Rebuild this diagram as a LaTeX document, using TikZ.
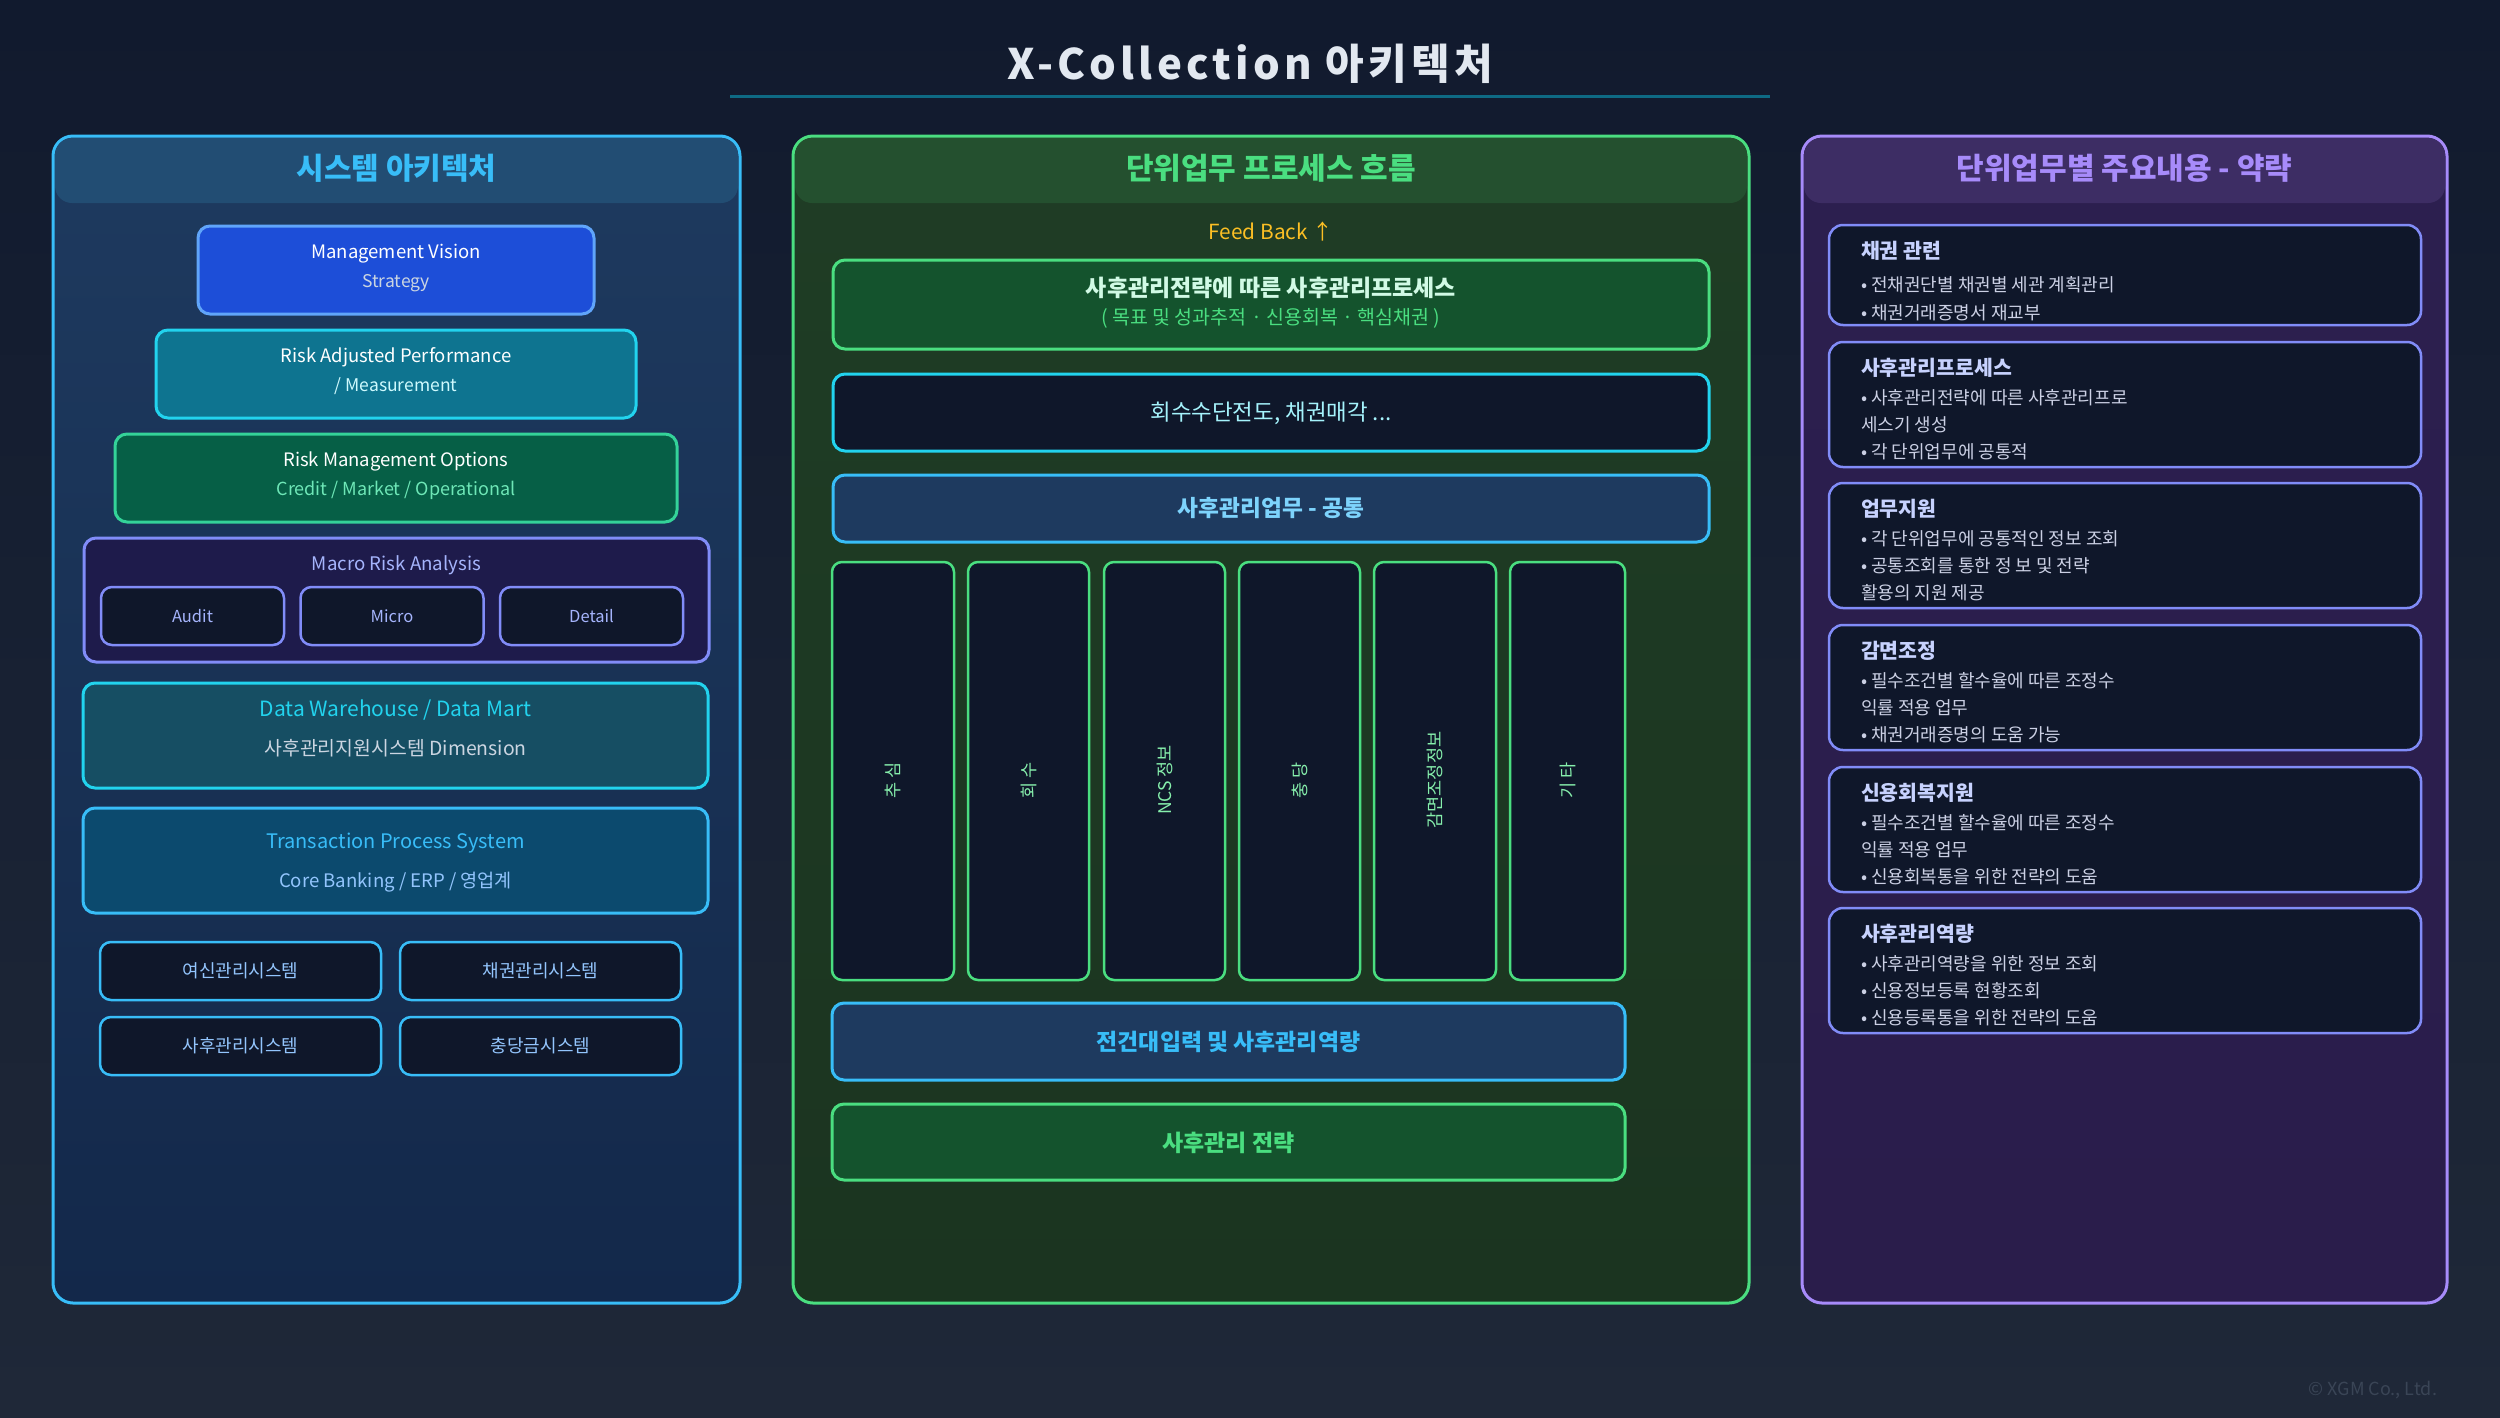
\documentclass[tikz,border=0pt]{standalone}
\usepackage{fontspec}
\setmainfont{Noto Sans CJK KR}
\newfontfamily\titlefont{Noto Sans CJK KR}[LetterSpace=10]
\newcommand{\fsz}[1]{\fontsize{#1}{#1}\selectfont}
\definecolor{bgtop}{HTML}{111A2E}
\definecolor{bgbot}{HTML}{1F2838}
\definecolor{titletxt}{HTML}{E2E8F0}
\definecolor{titleline}{HTML}{0E6A84}
\definecolor{lpborder}{HTML}{38BDF8}
\definecolor{lptop}{HTML}{1E3A5F}
\definecolor{lpbot}{HTML}{13284A}
\definecolor{lphdr}{HTML}{224D73}
\definecolor{mpborder}{HTML}{4ADE80}
\definecolor{mptop}{HTML}{1F3D25}
\definecolor{mpbot}{HTML}{1B3420}
\definecolor{mphdr}{HTML}{24502F}
\definecolor{rpborder}{HTML}{A78BFA}
\definecolor{rptop}{HTML}{2C1F4F}
\definecolor{rpbot}{HTML}{2A1D4B}
\definecolor{rphdr}{HTML}{3D2D64}
\definecolor{darkfill}{HTML}{0F172A}
\definecolor{mvfill}{HTML}{1D4ED8}
\definecolor{mvborder}{HTML}{60A5FA}
\definecolor{rapfill}{HTML}{0E7490}
\definecolor{cyanb}{HTML}{22D3EE}
\definecolor{rmofill}{HTML}{065F46}
\definecolor{rmoborder}{HTML}{34D399}
\definecolor{macrofill}{HTML}{1E1B4B}
\definecolor{indigob}{HTML}{818CF8}
\definecolor{indigot}{HTML}{A5B4FC}
\definecolor{dwfill}{HTML}{164E63}
\definecolor{tpsfill}{HTML}{0C4A6E}
\definecolor{lightblue}{HTML}{93C5FD}
\definecolor{subgray}{HTML}{CBD5E1}
\definecolor{greentxt}{HTML}{6EE7B7}
\definecolor{lightcyan}{HTML}{CFFAFE}
\definecolor{gfill}{HTML}{14532D}
\definecolor{gtitle}{HTML}{D1FAE5}
\definecolor{lgreen}{HTML}{86EFAC}
\definecolor{cyantxt}{HTML}{A5F3FC}
\definecolor{bluefill}{HTML}{1E3A5F}
\definecolor{skytxt}{HTML}{7DD3FC}
\definecolor{amber}{HTML}{FBBF24}
\definecolor{cardtitle}{HTML}{C7D2FE}
\definecolor{cardtext}{HTML}{CBD0E4}
\definecolor{copyc}{HTML}{3A4556}
\tikzset{
  every node/.style={inner sep=0pt, outer sep=0pt},
  panelbox/.style={draw, line width=3pt, rounded corners=20pt},
  hdrband/.style={rounded corners=17pt, minimum height=65pt},
  blk/.style={draw, line width=3pt, rounded corners=12pt},
  thinblk/.style={draw, line width=2.5pt, rounded corners=11pt},
  colbox/.style={draw=mpborder, fill=darkfill, line width=2.5pt, rounded corners=10pt, minimum height=418pt},
  card/.style={draw=indigob, fill=darkfill, line width=2.5pt, rounded corners=14pt, minimum width=592pt},
  hdrtxt/.style={font=\bfseries\fsz{30}},
  cardhead/.style={anchor=west, text=cardtitle, font=\bfseries\fsz{20.5}},
  cardline/.style={anchor=west, text=cardtext, font=\fsz{18}},
  coltxt/.style={rotate=90, text=lgreen, font=\fsz{17.5}}
}
\begin{document}
\begin{tikzpicture}[x=1pt,y=-1pt]
\useasboundingbox (0,0) rectangle (2500,1417);
\shade[top color=bgtop, bottom color=bgbot] (0,0) rectangle (2500,1417);

% title
\node[text=titletxt, font=\titlefont\bfseries\fsz{42}] (title) at (1250,64) {X-Collection 아키텍처};
\coordinate (tl1) at (730,96);
\coordinate (tl2) at (1770,96);
\draw[titleline, line width=3pt] (tl1) -- (tl2);

% ===== left panel =====
\node[panelbox, draw=lpborder, top color=lptop, bottom color=lpbot, minimum width=687pt, minimum height=1167pt] (lp) at (396.5,719.5) {};
\node[hdrband, fill=lphdr, minimum width=683pt] (lph) at (396.5,170.5) {};
\node[hdrtxt, text=lpborder] (lpt) at (396.5,168) {시스템 아키텍처};

\node[blk, draw=mvborder, fill=mvfill, minimum width=396pt, minimum height=88pt] (mv) at (396,270) {};
\node[text=white, font=\fsz{18.5}] (mv1) at (396,254) {Management Vision};
\node[text=subgray, font=\fsz{17.5}] (mv2) at (396,283) {Strategy};

\node[blk, draw=cyanb, fill=rapfill, minimum width=480pt, minimum height=88pt] (rap) at (396,374) {};
\node[text=white, font=\fsz{18.5}] (rap1) at (396,357) {Risk Adjusted Performance};
\node[text=lightcyan, font=\fsz{17.5}] (rap2) at (396,386) {/ Measurement};

\node[blk, draw=rmoborder, fill=rmofill, minimum width=562pt, minimum height=88pt] (rmo) at (396,478) {};
\node[text=white, font=\fsz{18.5}] (rmo1) at (396,461) {Risk Management Options};
\node[text=greentxt, font=\fsz{18}] (rmo2) at (396,490) {Credit / Market / Operational};

\node[blk, draw=indigob, fill=macrofill, minimum width=625pt, minimum height=124pt] (macro) at (396.5,600) {};
\node[text=indigot, font=\fsz{18.7}] (macrot) at (396.5,565) {Macro Risk Analysis};
\node[thinblk, draw=indigob, fill=darkfill, minimum width=183pt, minimum height=58pt] (audit) at (192.5,616) {};
\node[thinblk, draw=indigob, fill=darkfill, minimum width=183pt, minimum height=58pt] (micro) at (392,616) {};
\node[thinblk, draw=indigob, fill=darkfill, minimum width=183pt, minimum height=58pt] (detail) at (591.5,616) {};
\node[text=indigot, font=\fsz{16.5}] at (audit) {Audit};
\node[text=indigot, font=\fsz{16.5}] at (micro) {Micro};
\node[text=indigot, font=\fsz{16.5}] at (detail) {Detail};

\node[blk, draw=cyanb, fill=dwfill, minimum width=625pt, minimum height=105pt] (dw) at (395.5,735.5) {};
\node[text=cyanb, font=\fsz{21}] (dw1) at (395.5,710) {Data Warehouse / Data Mart};
\node[text=subgray, font=\fsz{19.4}] (dw2) at (395.5,748) {사후관리지원시스템 Dimension};

\node[blk, draw=lpborder, fill=tpsfill, minimum width=625pt, minimum height=105pt] (tps) at (395.5,860.5) {};
\node[text=lpborder, font=\fsz{20}] (tps1) at (395.5,843) {Transaction Process System};
\node[text=lightblue, font=\fsz{18.6}] (tps2) at (395.5,882) {Core Banking / ERP / 영업계};

\node[thinblk, draw=lpborder, fill=darkfill, minimum width=281pt, minimum height=58pt] (s1) at (240.5,971) {};
\node[thinblk, draw=lpborder, fill=darkfill, minimum width=281pt, minimum height=58pt] (s2) at (540.5,971) {};
\node[thinblk, draw=lpborder, fill=darkfill, minimum width=281pt, minimum height=58pt] (s3) at (240.5,1046) {};
\node[thinblk, draw=lpborder, fill=darkfill, minimum width=281pt, minimum height=58pt] (s4) at (540.5,1046) {};
\node[text=lightblue, font=\fsz{18}] at (s1) {여신관리시스템};
\node[text=lightblue, font=\fsz{18}] at (s2) {채권관리시스템};
\node[text=lightblue, font=\fsz{18}] at (s3) {사후관리시스템};
\node[text=lightblue, font=\fsz{18}] at (s4) {충당금시스템};

% ===== middle panel =====
\node[panelbox, draw=mpborder, top color=mptop, bottom color=mpbot, minimum width=956pt, minimum height=1167pt] (mp) at (1271,719.5) {};
\node[hdrband, fill=mphdr, minimum width=952pt] (mph) at (1271,170.5) {};
\node[hdrtxt, text=mpborder] (mpt) at (1271,168) {단위업무 프로세스 흐름};
\node[text=amber, font=\fsz{20.8}] (fb) at (1271,232) {Feed Back ↑};

\node[blk, draw=mpborder, fill=gfill, minimum width=876pt, minimum height=89pt] (b1) at (1271,304.5) {};
\node[text=gtitle, font=\bfseries\fsz{23}] (b1a) at (1271,288) {사후관리전략에 따른 사후관리프로세스};
\node[text=mpborder, font=\fsz{19.5}] (b1b) at (1271,318) {( 목표 및 성과추적 · 신용회복 · 핵심채권 )};

\node[blk, draw=cyanb, fill=darkfill, minimum width=876pt, minimum height=77pt] (b2) at (1271,412.5) {};
\node[text=cyantxt, font=\fsz{22.4}] at (1271,413) {회수수단전도, 채권매각 ...};

\node[blk, draw=lpborder, fill=bluefill, minimum width=876pt, minimum height=67pt] (b3) at (1271,508.5) {};
\node[text=skytxt, font=\bfseries\fsz{22.7}] at (1271,508) {사후관리업무 - 공통};

\node[colbox, minimum width=122pt] (c1) at (893,771) {};
\node[colbox, minimum width=121pt] (c2) at (1028.5,771) {};
\node[colbox, minimum width=121pt] (c3) at (1164.5,771) {};
\node[colbox, minimum width=121pt] (c4) at (1299.5,771) {};
\node[colbox, minimum width=122pt] (c5) at (1435,771) {};
\node[colbox, minimum width=115pt] (c6) at (1567.5,771) {};
\node[coltxt] at (893,780) {추 심};
\node[coltxt] at (1028.5,780) {회 수};
\node[coltxt] at (1164.5,780) {NCS 정보};
\node[coltxt] at (1299.5,780) {충 당};
\node[coltxt] at (1435,780) {감면조정정보};
\node[coltxt] at (1567.5,780) {기 타};

\node[blk, draw=lpborder, fill=bluefill, minimum width=793pt, minimum height=77pt] (ba) at (1228.5,1041.5) {};
\node[text=lpborder, font=\bfseries\fsz{22.9}] at (1228.5,1042) {전건대입력 및 사후관리역량};
\node[blk, draw=mpborder, fill=gfill, minimum width=793pt, minimum height=76pt] (bb) at (1228.5,1142) {};
\node[text=mpborder, font=\bfseries\fsz{23}] at (1228.5,1143) {사후관리 전략};

% ===== right panel =====
\node[panelbox, draw=rpborder, top color=rptop, bottom color=rpbot, minimum width=645pt, minimum height=1167pt] (rp) at (2124.5,719.5) {};
\node[hdrband, fill=rphdr, minimum width=641pt] (rph) at (2124.5,170.5) {};
\node[hdrtxt, text=rpborder] (rpt) at (2124.5,168) {단위업무별 주요내용 - 약략};

\node[card, minimum height=100pt] (k1) at (2125,275) {};
\node[cardhead] at (1861,251) {채권 관련};
\node[cardline] at (1861,285) {• 전채권단별 채권별 세관 계획관리};
\node[cardline] at (1861,313) {• 채권거래증명서 재교부};

\node[card, minimum height=125pt] (k2) at (2125,404.5) {};
\node[cardhead] at (1861,368) {사후관리프로세스};
\node[cardline] at (1861,398) {• 사후관리전략에 따른 사후관리프로};
\node[cardline] at (1861,425) {세스기 생성};
\node[cardline] at (1861,452) {• 각 단위업무에 공통적};

\node[card, minimum height=125pt] (k3) at (2125,545.5) {};
\node[cardhead] at (1861,509) {업무지원};
\node[cardline] at (1861,539) {• 각 단위업무에 공통적인 정보 조회};
\node[cardline] at (1861,566) {• 공통조회를 통한 정 보 및 전략};
\node[cardline] at (1861,593) {활용의 지원 제공};

\node[card, minimum height=125pt] (k4) at (2125,687.5) {};
\node[cardhead] at (1861,651) {감면조정};
\node[cardline] at (1861,681) {• 필수조건별 할수율에 따른 조정수};
\node[cardline] at (1861,708) {익률 적용 업무};
\node[cardline] at (1861,735) {• 채권거래증명의 도움 가능};

\node[card, minimum height=125pt] (k5) at (2125,829.5) {};
\node[cardhead] at (1861,793) {신용회복지원};
\node[cardline] at (1861,823) {• 필수조건별 할수율에 따른 조정수};
\node[cardline] at (1861,850) {익률 적용 업무};
\node[cardline] at (1861,877) {• 신용회복통을 위한 전략의 도움};

\node[card, minimum height=125pt] (k6) at (2125,970.5) {};
\node[cardhead] at (1861,934) {사후관리역량};
\node[cardline] at (1861,964) {• 사후관리역량을 위한 정보 조회};
\node[cardline] at (1861,991) {• 신용정보등록 현황조회};
\node[cardline] at (1861,1018) {• 신용등록통을 위한 전략의 도움};

\node[anchor=east, text=copyc, font=\fsz{18}] (copy) at (2437,1390) {© XGM Co., Ltd.};
\end{tikzpicture}
\end{document}
